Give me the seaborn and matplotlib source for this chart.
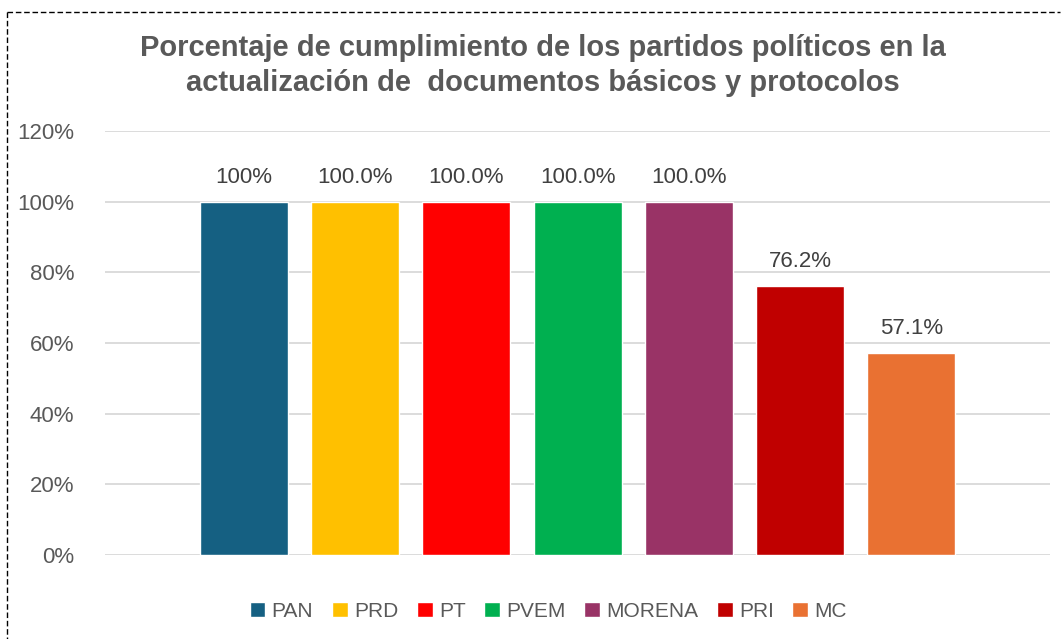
import numpy as np
import pandas as pd
import matplotlib
matplotlib.use("Agg")
import matplotlib.pyplot as plt
import seaborn as sns
from matplotlib.lines import Line2D
from matplotlib.ticker import FuncFormatter

# === Datos ===
partidos = ["PAN", "PRD", "PT", "PVEM", "MORENA", "PRI", "MC"]
porcentajes = [100.0, 100.0, 100.0, 100.0, 100.0, 76.2, 57.1]
etiquetas = ["100%", "100.0%", "100.0%", "100.0%", "100.0%", "76.2%", "57.1%"]
colores = ["#156082", "#FFC000", "#FF0000", "#00B050", "#993366", "#C00000", "#E97132"]

df = pd.DataFrame({"partido": partidos, "pct": porcentajes})

sns.set_theme(style="white")
plt.rcParams["font.family"] = ["Liberation Sans", "DejaVu Sans"]
gris = "#595959"

fig = plt.figure(figsize=(10.64, 6.39), dpi=100)
ax = fig.add_axes([0.0987, 0.1315, 0.8883, 0.6635])

sns.barplot(data=df, x="partido", y="pct", hue="partido", palette=colores,
            width=0.79, dodge=False, legend=True, ax=ax, saturation=1)

ax.set_ylim(0, 120)
ax.set_xlim(-1.25, 7.25)
ax.set_yticks(np.arange(0, 121, 20))
ax.yaxis.set_major_formatter(FuncFormatter(lambda v, p: f"{v:.0f}%"))
ax.set_xticks([])
ax.set_xlabel("")
ax.set_ylabel("")
ax.grid(axis="y", color="#D9D9D9", linewidth=1.3)
ax.set_axisbelow(True)
for s in ax.spines.values():
    s.set_visible(False)
ax.tick_params(axis="y", labelsize=16, labelcolor=gris, length=0, pad=22)

# etiquetas de datos
for i, (v, t) in enumerate(zip(porcentajes, etiquetas)):
    ax.text(i, v + 4, t, ha="center", va="bottom", fontsize=16, color="#404040")

sns.move_legend(ax, "lower center", bbox_to_anchor=(0.469, -0.2), ncol=7,
                frameon=False, title=None, fontsize=15, handlelength=0.75,
                handleheight=0.75, handletextpad=0.3, columnspacing=0.9)
for t in ax.get_legend().get_texts():
    t.set_color(gris)

fig.text(0.51, 0.8975, "Porcentaje de cumplimiento de los partidos políticos en la\n"
         "actualización de  documentos básicos y protocolos",
         ha="center", va="center", fontsize=21, fontweight="bold", color=gris,
         linespacing=1.3)

# borde punteado
fig.add_artist(Line2D([0.0066, 0.996], [0.981, 0.981], transform=fig.transFigure,
                      color="black", linestyle=(0, (4, 2)), linewidth=1))
fig.add_artist(Line2D([0.0066, 0.0066], [0.981, 0.0], transform=fig.transFigure,
                      color="black", linestyle=(0, (4, 2)), linewidth=1))

fig.savefig("out.png", dpi=100)
